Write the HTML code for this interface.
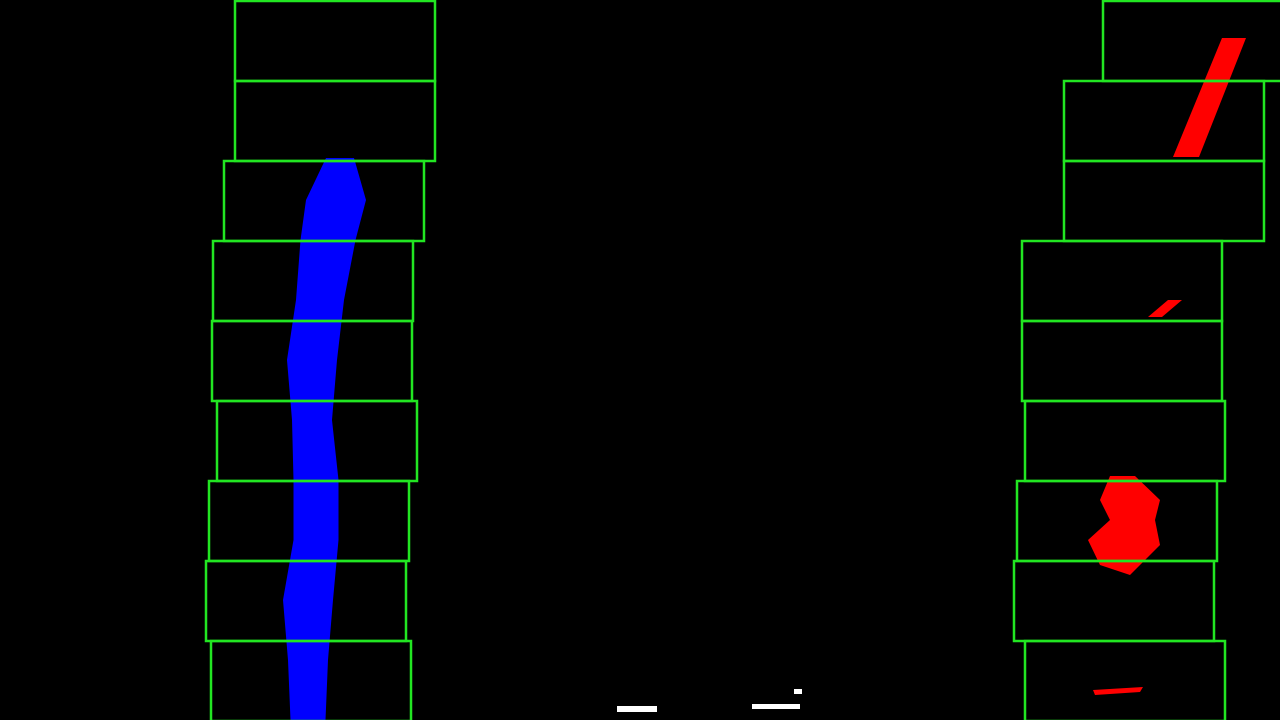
<!DOCTYPE html>
<html><head><meta charset="utf-8"><style>html,body{margin:0;padding:0;background:#000;width:1280px;height:720px;overflow:hidden}</style></head>
<body>
<svg id="chart" width="1280" height="720" viewBox="0 0 1280 720" xmlns="http://www.w3.org/2000/svg">
<rect width="1280" height="720" fill="#000"/>
<g id="lane"></g>
<g id="red">
<polygon points="1222,38 1246,38 1199,157 1173,157" fill="#ff0000"/>
<polygon points="1168,300 1182,300 1162,317 1148,317" fill="#ff0000"/>
<polygon points="1110,476 1135,476 1160,500 1155,520 1160,545 1130,575 1100,565 1088,540 1110,520 1100,500" fill="#ff0000"/>
<polygon points="1093,690 1143,687 1140,692 1095,695" fill="#ff0000"/>
</g>
<g fill="#fff">
<rect x="617" y="706" width="40" height="6"/>
<rect x="752" y="704" width="48" height="5"/>
<rect x="794" y="689" width="8" height="5"/>
</g>
<g id="wins"></g>
</svg>
<script>
const windowRows = [0,1,2,3,4,5,6,7,8];
const leftCenters = [335,335,324,313,312,317,309,306,311];
const rightCenters = [1203,1164,1164,1122,1122,1125,1117,1114,1125];
const laneY = [158,200,240,300,360,420,480,540,600,660,720];
const laneCenter = [340,336,328,320,312,312,316,316,308,308,308];
const laneWidth = [28,60,55,48,50,40,45,45,50,40,35];
const WH = 80, WW = 200;
const ns = "http://www.w3.org/2000/svg";
const wins = document.getElementById('wins');
function addWin(cx, row, side){
  const r = document.createElementNS(ns,'rect');
  r.setAttribute('x', cx - WW/2); r.setAttribute('y', row*WH + 1);
  r.setAttribute('width', WW); r.setAttribute('height', WH);
  r.setAttribute('fill','none'); r.setAttribute('stroke','#22e622'); r.setAttribute('stroke-width','2.5');
  
  
  wins.appendChild(r);
}
windowRows.forEach((row,i)=>{addWin(leftCenters[i],row,'left');addWin(rightCenters[i],row,'right');});
const pts = [];
laneY.forEach((y,i)=>pts.push((laneCenter[i]-laneWidth[i]/2)+','+y));
for(let i=laneY.length-1;i>=0;i--) pts.push((laneCenter[i]+laneWidth[i]/2)+','+laneY[i]);
const p = document.createElementNS(ns,'polygon');
p.setAttribute('points', pts.join(' '));
p.setAttribute('fill','#0000ff');


document.getElementById('lane').appendChild(p);
</script>
</body></html>
